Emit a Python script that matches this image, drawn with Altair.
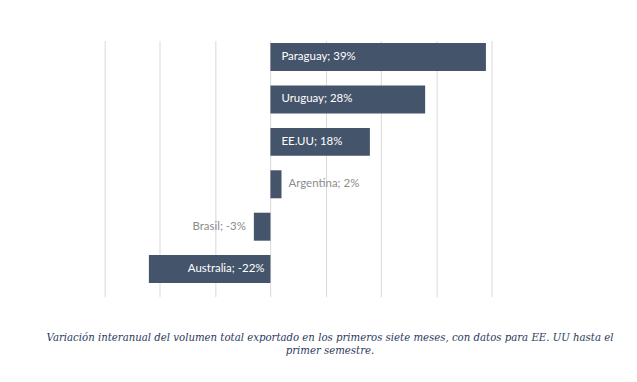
import altair as alt
import pandas as pd

countries = ["Paraguay", "Uruguay", "EE.UU", "Argentina", "Brasil", "Australia"]
values = [39, 28, 18, 2, -3, -22]
grid_ticks = [-30, -20, -10, 0, 10, 20, 30, 40]
caption = [
    "Variación interanual del volumen total exportado en los primeros siete meses, con datos para EE. UU hasta el",
    "primer semestre.",
]

df = pd.DataFrame({"country": countries, "value": values})

BAR = "#44546a"
x_scale = alt.Scale(domain=[-30, 40], nice=False, zero=False)
y_scale = alt.Scale(domain=countries, paddingInner=0.34, paddingOuter=0.19, align=0.16)

base = alt.Chart(df).transform_calculate(
    label="datum.country + '; ' + datum.value + '%'"
)

bars = base.mark_bar(color=BAR).encode(
    x=alt.X("value:Q", scale=x_scale,
            axis=alt.Axis(values=grid_ticks, labels=False, ticks=False, domain=False,
                          title=None, grid=True, gridColor="#d9d9d9", gridWidth=1)),
    y=alt.Y("country:N", scale=y_scale, axis=None),
)

font = "Lato"
fs = 11.5

in_pos = base.transform_filter("datum.value >= 10").mark_text(
    align="left", baseline="middle", dx=11, color="white", font=font, fontSize=fs
).encode(x=alt.datum(0, scale=x_scale), y=alt.Y("country:N", scale=y_scale), text="label:N")

out_pos = base.transform_filter("datum.value > 0 && datum.value < 10").mark_text(
    align="left", baseline="middle", dx=7, color="#8c8c8c", font=font, fontSize=fs
).encode(x=alt.X("value:Q", scale=x_scale), y=alt.Y("country:N", scale=y_scale), text="label:N")

out_neg = base.transform_filter("datum.value < 0 && datum.value > -10").mark_text(
    align="right", baseline="middle", dx=-8, color="#8c8c8c", font=font, fontSize=fs
).encode(x=alt.X("value:Q", scale=x_scale), y=alt.Y("country:N", scale=y_scale), text="label:N")

in_neg = base.transform_filter("datum.value <= -10").mark_text(
    align="right", baseline="middle", dx=-6, color="white", font=font, fontSize=fs
).encode(x=alt.datum(0, scale=x_scale), y=alt.Y("country:N", scale=y_scale), text="label:N")

chart = alt.layer(bars, in_pos, out_pos, out_neg, in_neg).properties(
    width=388,
    height=257,
    autosize=alt.AutoSizeParams(type="none"),
    padding={"left": 97, "top": 32, "right": 138, "bottom": 70},
    title=alt.TitleParams(
        text=caption,
        orient="bottom",
        anchor="middle",
        dx=32,
        offset=36,
        font="DejaVu Serif",
        fontStyle="italic",
        fontWeight="normal",
        fontSize=10.2,
        color="#2b3a5e",
        lineHeight=14,
    ),
).configure_view(stroke=None)

chart.save("out.html", embed_options={"renderer": "svg", "actions": False})
